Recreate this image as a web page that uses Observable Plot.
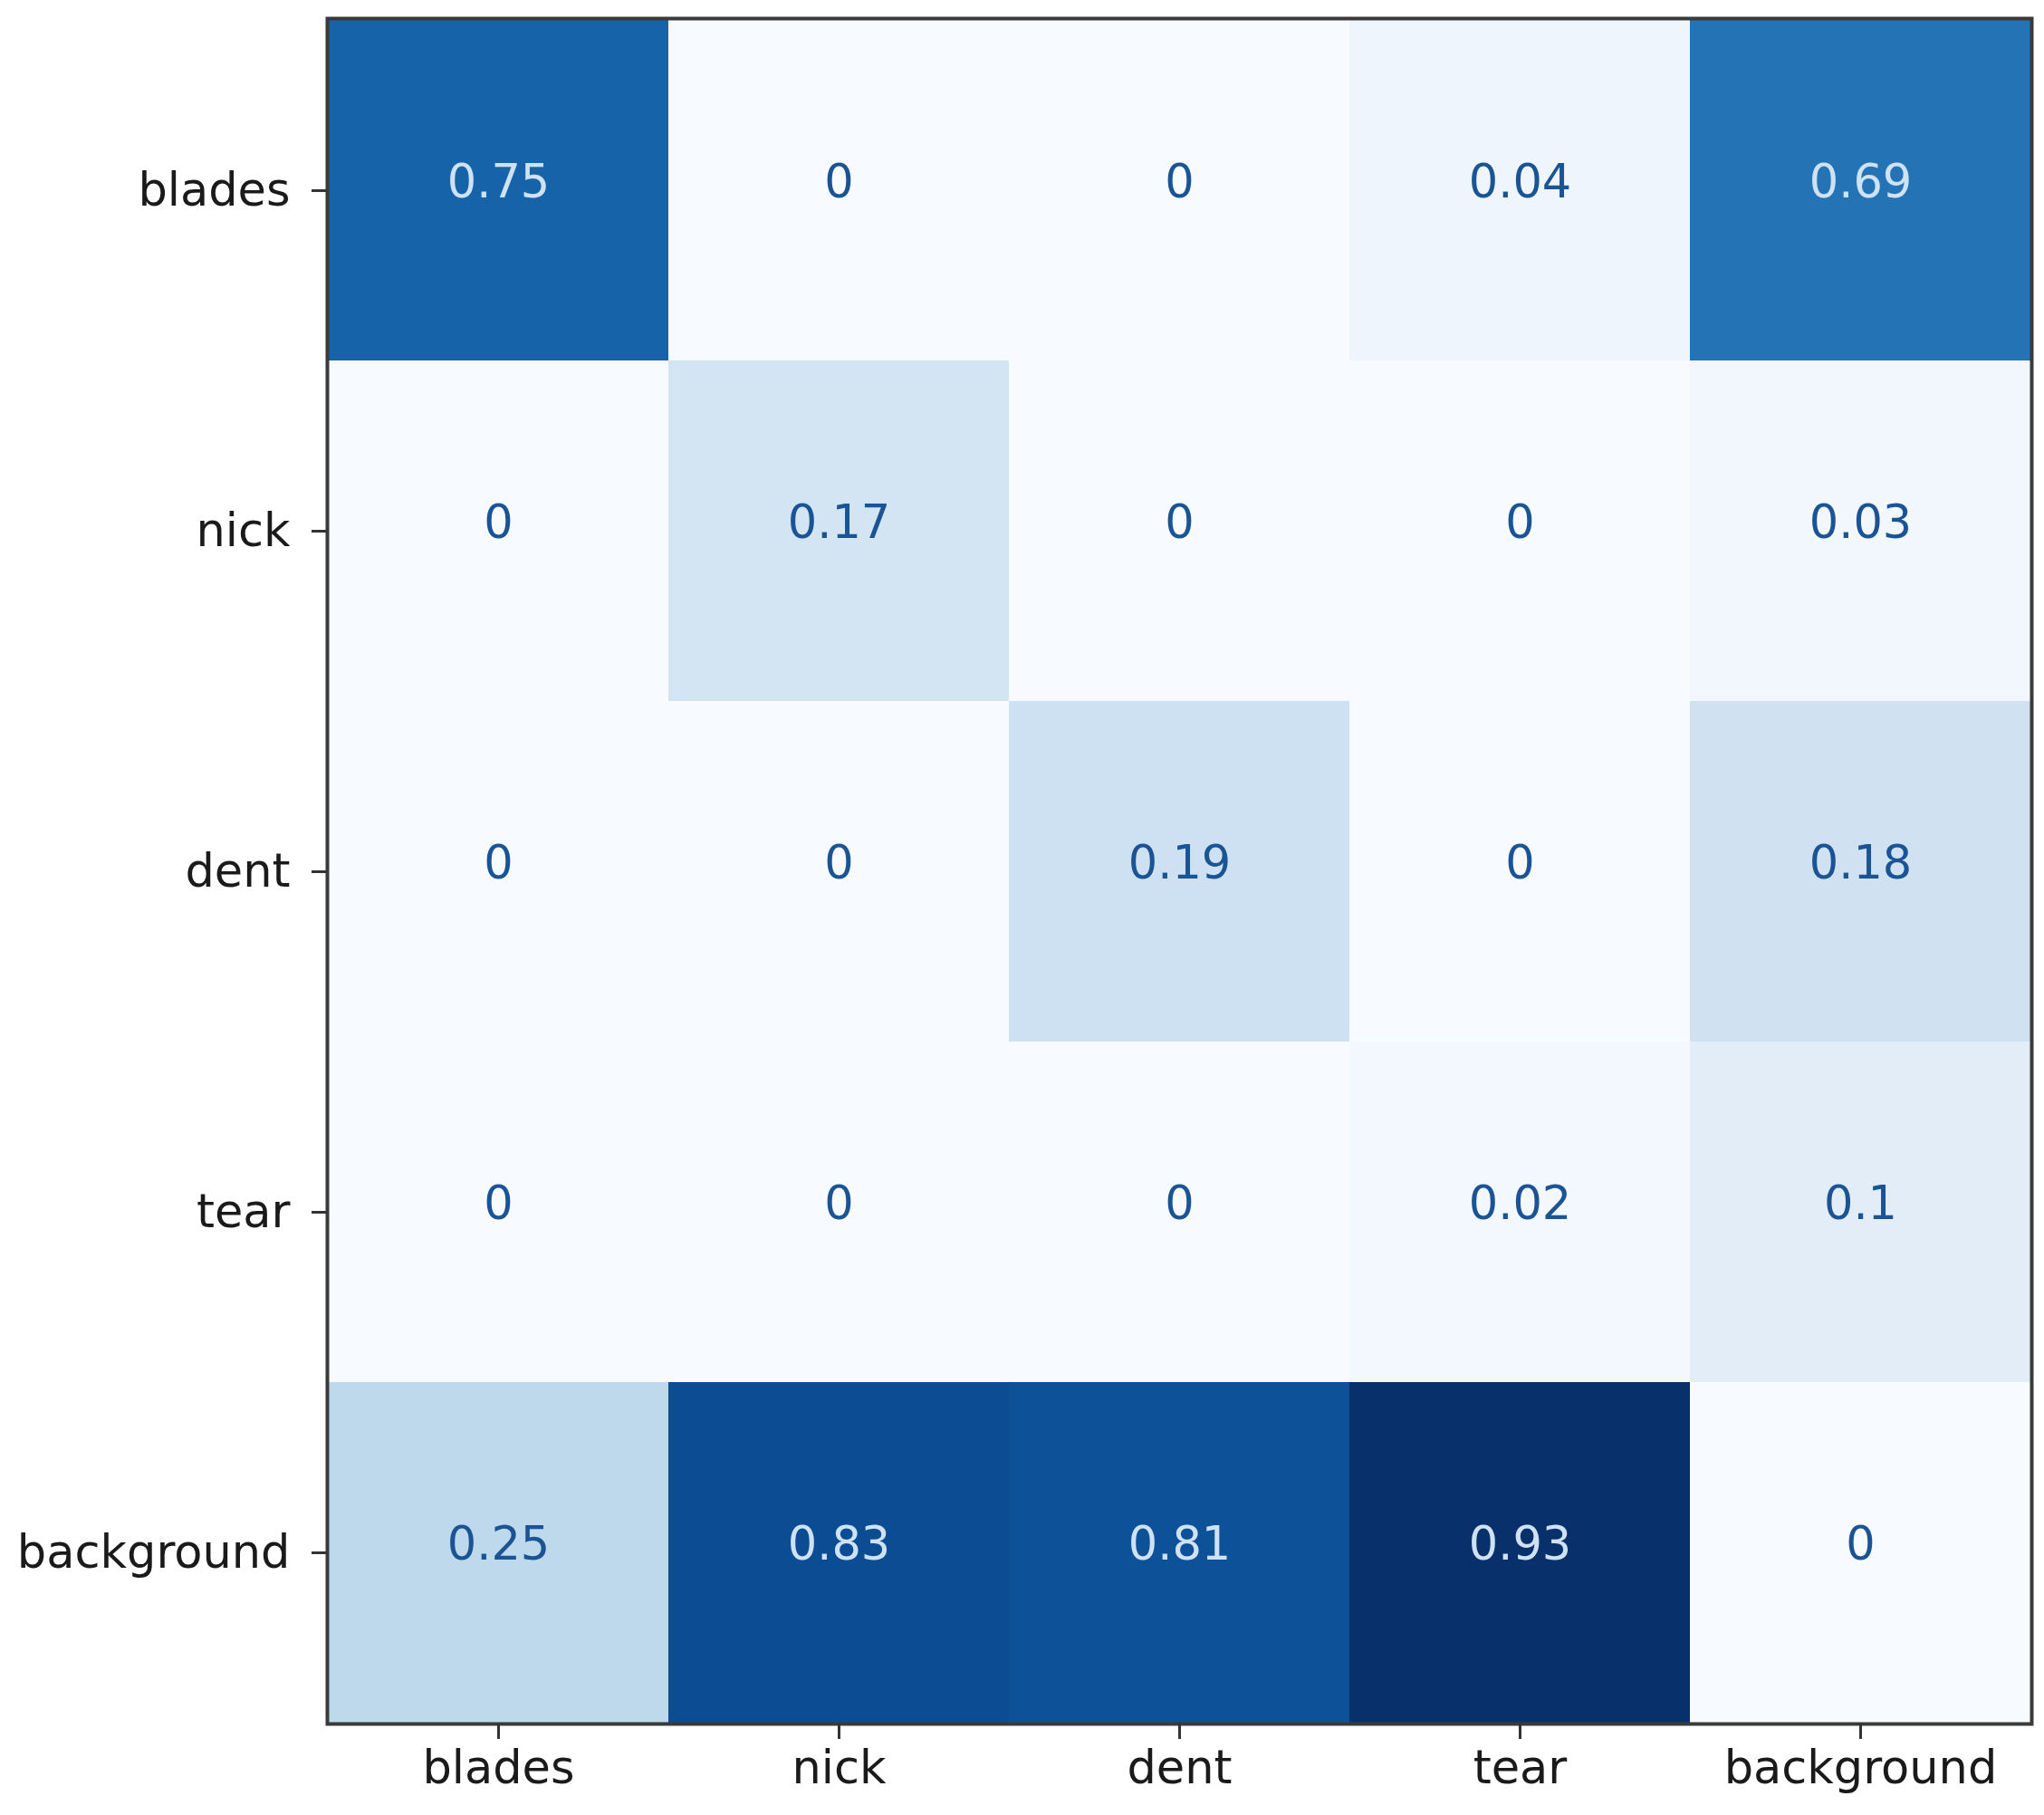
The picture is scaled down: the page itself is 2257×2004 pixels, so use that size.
<!DOCTYPE html>
<html>
<head>
<meta charset="utf-8">
<script src="https://cdn.jsdelivr.net/npm/d3@7"></script>
<script src="https://cdn.jsdelivr.net/npm/@observablehq/plot@0.6"></script>
<style>
  html, body { margin: 0; padding: 0; background: #fff; }
  #chart svg { display: block; }
</style>
</head>
<body>
<div id="chart"></div>
<script>
// Class labels (rows = y, columns = x)
const classes = ["blades", "nick", "dent", "tear", "background"];

// Matrix rows
const rowBlades     = [0.75, 0,    0,    0.04, 0.69];
const rowNick       = [0,    0.17, 0,    0,    0.03];
const rowDent       = [0,    0,    0.19, 0,    0.18];
const rowTear       = [0,    0,    0,    0.02, 0.1];
const rowBackground = [0.25, 0.83, 0.81, 0.93, 0];

const rows = [rowBlades, rowNick, rowDent, rowTear, rowBackground];
const cells = [];
rows.forEach((r, i) => r.forEach((v, j) => cells.push({y: classes[i], x: classes[j], value: v})));

const vmax = d3.max(cells, d => d.value);
const thresh = vmax / 2;

const font = "DejaVu Sans, sans-serif";

const chart = Plot.plot({
  width: 2257,
  height: 2004,
  marginLeft: 361,
  marginRight: 14,
  marginTop: 20,
  marginBottom: 101,
  style: {fontFamily: font, background: "#fff"},
  x: {domain: classes, padding: 0, label: null},
  y: {domain: classes, padding: 0, label: null},
  color: {type: "linear", scheme: "blues", domain: [0, vmax]},
  marks: [
    Plot.cell(cells, {x: "x", y: "y", fill: "value", inset: 0}),
    Plot.text(cells, {
      x: "x", y: "y",
      text: d => String(d.value),
      fill: d => d.value > thresh ? "#cfe2f3" : "#1b5494",
      fontSize: 51,
      dy: -9
    }),
    Plot.frame({stroke: "#3a3a3a", strokeWidth: 4}),
    Plot.axisX({
      anchor: "bottom", tickSize: 17, tickPadding: 12,
      fontSize: 51, stroke: "#333", strokeWidth: 3, fill: "#1a1a1a", label: null
    }),
    Plot.axisY({
      anchor: "left", tickSize: 17, tickPadding: 24,
      fontSize: 51, stroke: "#333", strokeWidth: 3, fill: "#1a1a1a", label: null
    })
  ]
});

document.getElementById("chart").appendChild(chart);
</script>
</body>
</html>
